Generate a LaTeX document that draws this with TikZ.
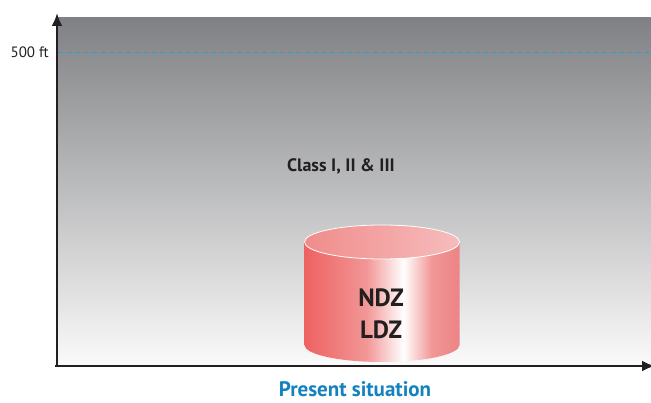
\documentclass[tikz,border=0pt]{standalone}
\usepackage{fontspec}
\setmainfont{PT Sans}
\usetikzlibrary{arrows.meta,positioning,shapes.geometric}

\definecolor{axisgrey}{RGB}{35,31,32}
\definecolor{skytop}{RGB}{128,129,132}
\definecolor{skymid}{RGB}{200,200,202}
\definecolor{skybot}{RGB}{250,250,250}
\definecolor{dashblue}{RGB}{40,160,210}
\definecolor{titleblue}{RGB}{20,130,190}
\definecolor{cylL}{RGB}{238,98,98}
\definecolor{cylM}{RGB}{242,150,150}
\definecolor{cylR}{RGB}{236,132,132}
\definecolor{capL}{RGB}{240,140,140}
\definecolor{capR}{RGB}{247,188,188}

\pgfdeclarehorizontalshading{cylbody}{100bp}{color(0bp)=(cylL); color(25bp)=(cylL); color(45bp)=(cylM); color(57bp)=(white); color(66bp)=(cylM); color(75bp)=(cylR); color(100bp)=(cylR)}
\pgfdeclarehorizontalshading{cylcap}{100bp}{color(0bp)=(capL); color(25bp)=(capL); color(75bp)=(capR); color(100bp)=(capR)}

\begin{document}
\begin{tikzpicture}[x=1pt,y=1pt,
  axis/.style={line width=2.4pt,draw=axisgrey,-{Latex[length=13pt,width=11pt]}},
  level/.style={dashblue,line width=0.9pt,dash pattern=on 5pt off 3.5pt},
  lbl/.style={inner sep=0,text=axisgrey,font=\bfseries\fontsize{18}{21}\selectfont},
  zone/.style={inner sep=0,text=axisgrey,font=\bfseries\fontsize{25}{28}\selectfont},
  node distance=32pt]
\useasboundingbox (0,0) rectangle (651,402);

% sky
\shade[top color=skytop,middle color=skymid,bottom color=skybot] (58,37) rectangle (651,384);

% Nodes
\coordinate (orig) at (57,36);
\coordinate (ytip) at (57,389);
\coordinate (xtip) at (655,36);
\coordinate (lvl0) at (58,350);
\coordinate (lvl1) at (651,350);
\node[anchor=east,inner sep=0,text=axisgrey,font=\fontsize{15}{18}\selectfont] (ft) at (49,350) {500 ft};
\node[lbl] (cls) at (341,236) {Class I, II \& III};

% cylinder
\shade[shading=cylbody] (304.5,160) -- (304.5,57) arc[start angle=180,end angle=360,x radius=77.5,y radius=17] -- (459.5,160) arc[start angle=0,end angle=180,x radius=77.5,y radius=17] -- cycle;
\shade[shading=cylcap,draw=white,line width=0.8pt] (382,160) ellipse[x radius=77.5,y radius=17];

\node[zone] (ndz) at (381,104) {NDZ};
\node[zone,below of = ndz] (ldz) {LDZ};

\node[inner sep=0,text=titleblue,font=\bfseries\fontsize{21}{24}\selectfont] (title) at (355,13) {Present situation};

%arcs
\path (lvl0) edge[level] (lvl1);
\path (orig) edge[axis] (ytip);
\path ([xshift=-2pt]orig) edge[axis] (xtip);

\end{tikzpicture}
\end{document}
